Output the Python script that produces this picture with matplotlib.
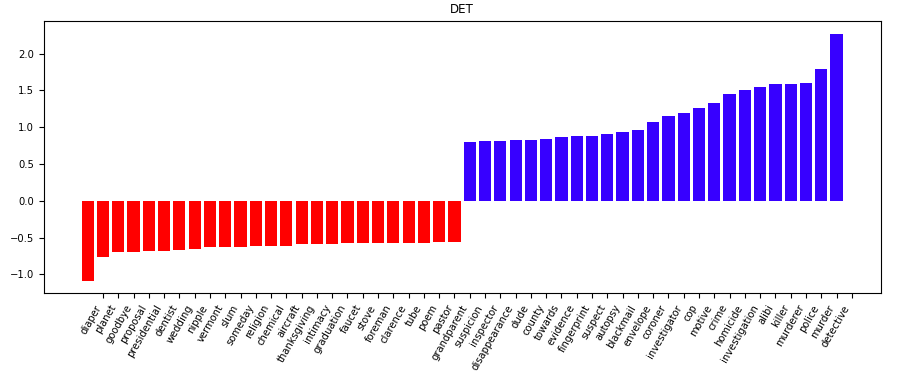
import matplotlib
matplotlib.use("Agg")
import matplotlib.pyplot as plt
import numpy as np

# words sorted by score, negatives first
neg_words = ["diaper", "planet", "goodbye", "proposal", "presidential", "dentist",
             "wedding", "nipple", "vermont", "slum", "someday", "religion",
             "chemical", "aircraft", "thanksgiving", "intimacy", "graduation",
             "faucet", "stove", "foreman", "clarence", "tube", "poem", "pastor",
             "grandparent"]
neg_vals = [-1.09, -0.76, -0.70, -0.70, -0.68, -0.68, -0.67, -0.655, -0.63, -0.63,
            -0.63, -0.615, -0.615, -0.615, -0.59, -0.59, -0.59, -0.575, -0.575,
            -0.575, -0.575, -0.575, -0.575, -0.56, -0.56]

pos_words = ["suspicion", "inspector", "disappearance", "dude", "county", "towards",
             "evidence", "fingerprint", "suspect", "autopsy", "blackmail",
             "envelope", "coroner", "investigator", "cop", "motive", "crime",
             "homicide", "investigation", "alibi", "killer", "murderer", "police",
             "murder", "detective"]
pos_vals = [0.80, 0.81, 0.81, 0.826, 0.826, 0.84, 0.867, 0.88, 0.88, 0.908, 0.935,
            0.962, 1.07, 1.15, 1.19, 1.26, 1.33, 1.45, 1.51, 1.55, 1.59, 1.59, 1.60,
            1.79, 2.27]

words = neg_words + pos_words
vals = neg_vals + pos_vals
colors = ["#ff0000"] * len(neg_vals) + ["#3700ff"] * len(pos_vals)

fig = plt.figure(figsize=(9.16, 3.82), dpi=100)
ax = fig.add_axes([0.0475, 0.2322, 0.914, 0.712])
x = np.arange(len(vals))
ax.bar(x, vals, color=colors)
# ticks sit one slot to the right of the bars, like the original
ax.set_xticks(x + 1)
ax.set_xticklabels(words, rotation=60, ha="right", fontsize=7.2)
ax.tick_params(axis="y", labelsize=7.2)
ax.set_title("DET", fontsize=8.6)

fig.savefig("out.png", dpi=100)
